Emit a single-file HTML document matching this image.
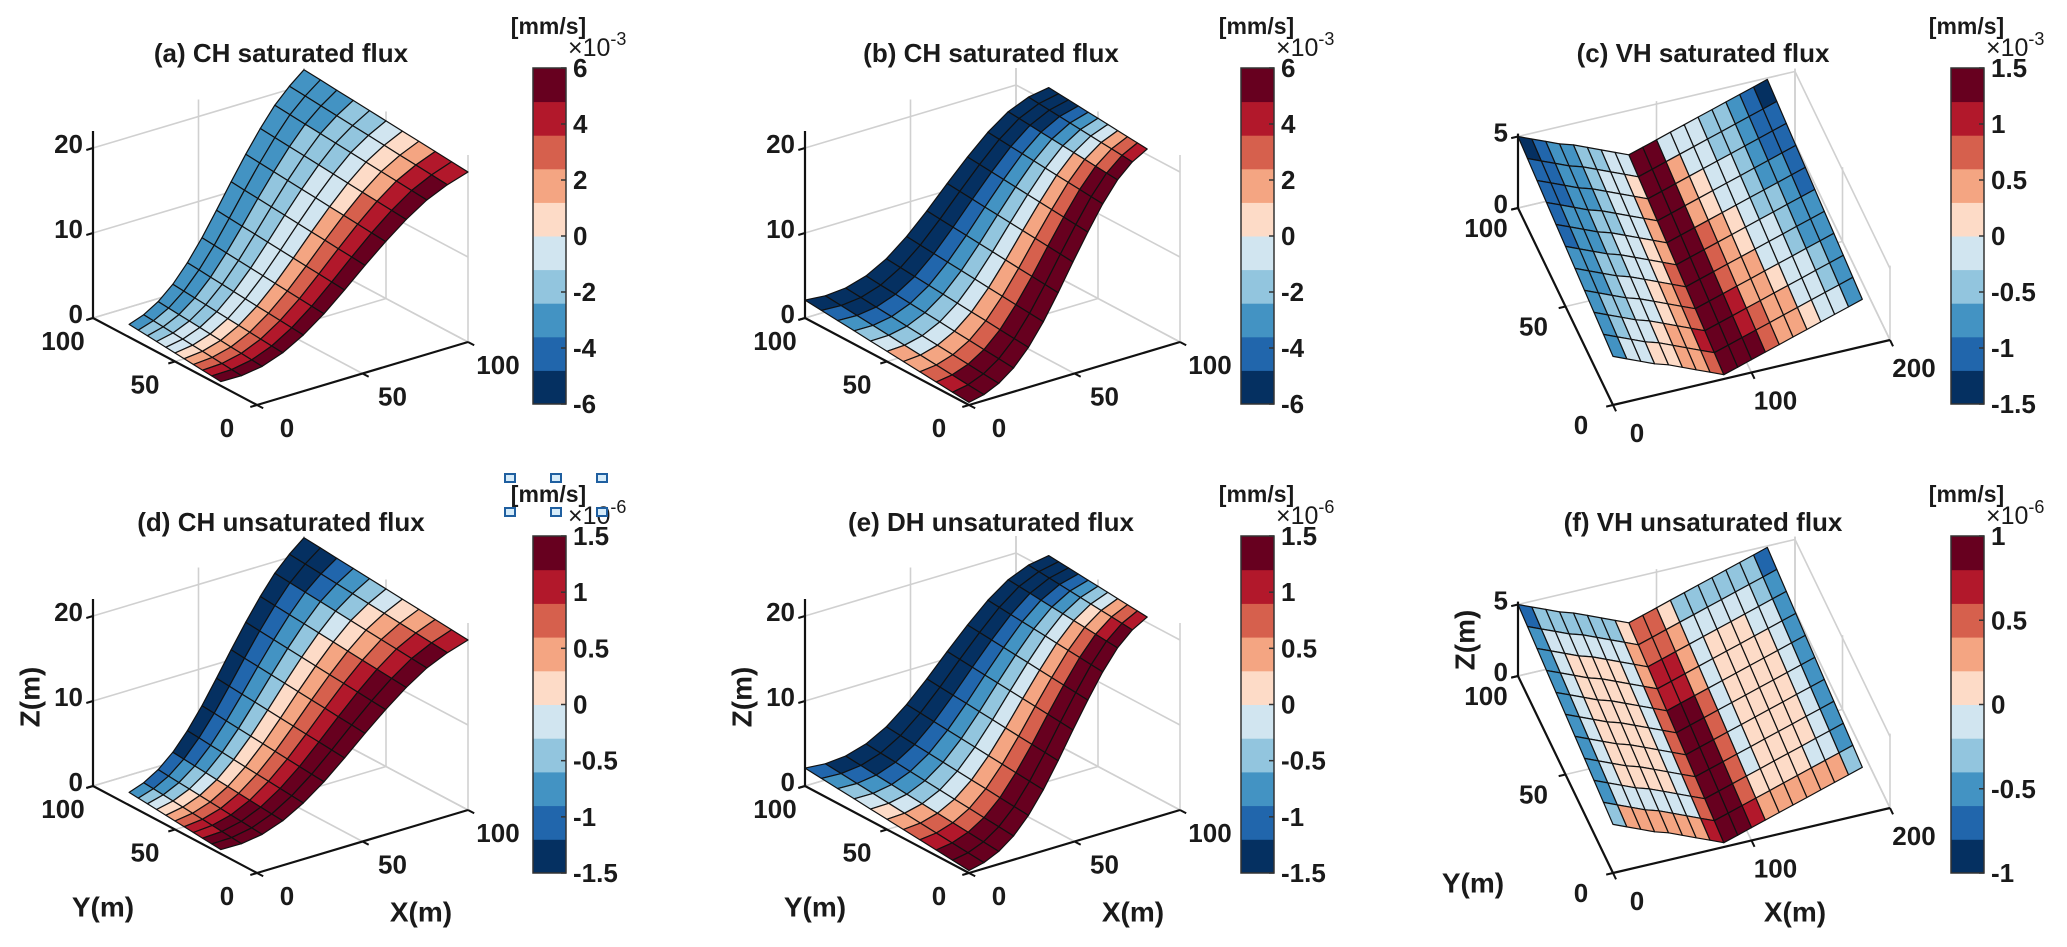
<!DOCTYPE html>
<html><head><meta charset="utf-8"><style>
html,body{margin:0;padding:0;background:#fff;}
svg{display:block;font-family:"Liberation Sans",Arial,sans-serif;font-weight:bold;}
</style></head><body>
<svg id="fig" width="2067" height="947" viewBox="0 0 2067 947" xmlns="http://www.w3.org/2000/svg"></svg>
<script>
// ---------- data ----------
const palette = ["#053061","#2166ac","#4393c3","#92c5de","#d1e5f0","#fddbc7","#f4a582","#d6604d","#b2182b","#67001f"];
// hillslope elevation profiles (13 points along X, 0..100 m)
const zProfileA = [1.0,1.3,2.0,3.2,4.9,7.0,9.4,11.9,14.3,16.5,18.4,19.8,20.9];
const zProfileB = [1.2,1.3,1.8,2.8,4.4,6.6,9.2,12.0,14.7,17.2,19.2,20.5,21.2];
// V-hillslope elevation at Y=100 (19 points along X, 0..180 m)
const zProfileV = [5.0,4.6,4.2,3.8,3.5,3.1,2.7,2.3,1.9,2.2,2.5,2.8,3.1,3.4,3.7,4.0,4.3,4.6,4.9];
// flux classes (0..9) per cell; hill rows run X=0 -> 100, columns Y high -> low
const fluxA = ["2334456789","2334456789","2233456789","2233446789","2233446789","2233446789","2233446789","2233446789","2233445789","2233345689","2223345689","2223345688"];
const fluxB = ["0123466789","0012346799","0012346799","0012346799","0012346799","0012346799","0012346799","0012346799","0012346799","0012346799","0001234679","0001234678"];
const fluxD = ["2345678899","1235678999","1234678999","0123567899","0123567899","0123567899","0123567899","0123567899","0123567899","0123456789","0012356789","0012345678"];
const fluxE = ["1234567899","0123467899","0012346799","0012346799","0012346799","0012346799","0012346799","0012346799","0012346799","0012346799","0001235689","0001234678"];
// V rows run Y=100 -> 0, columns X=0 -> 180
const fluxC = [
 [0,1,2,2,3,3,4,4,9,9,4,4,4,3,3,2,1,0],[1,1,2,2,3,4,4,5,9,9,6,4,4,3,3,2,1,1],
 [1,1,2,2,3,4,4,6,9,9,6,5,4,4,3,2,1,1],[1,2,2,3,3,4,4,6,9,9,6,5,4,4,3,2,2,1],
 [1,2,2,3,4,4,5,6,9,9,7,6,5,4,3,3,2,1],[2,2,3,3,4,4,5,7,9,9,7,6,5,4,4,3,2,2],
 [2,2,3,4,4,5,6,7,9,9,7,6,6,4,4,3,2,2],[2,3,3,4,4,5,6,7,9,9,8,6,6,5,4,4,3,2],
 [2,3,4,4,5,6,6,8,9,9,8,7,6,6,4,4,3,2],[2,4,4,5,5,6,6,7,9,9,9,7,6,6,5,4,4,2]];
const fluxF = [
 [1,3,3,3,3,3,3,5,7,7,5,3,3,3,3,3,3,1],[2,4,4,4,4,4,4,6,7,7,6,4,4,4,4,4,3,2],
 [2,4,5,5,5,5,4,6,8,8,6,4,5,5,5,4,4,2],[2,4,5,5,5,5,4,7,8,8,6,4,5,5,5,5,4,2],
 [2,4,5,5,5,5,4,7,9,9,7,4,5,5,5,5,4,2],[2,4,5,5,5,5,4,7,9,9,7,4,5,5,5,5,4,2],
 [2,4,5,5,5,5,4,7,9,9,7,4,5,5,5,5,4,2],[2,4,5,5,5,5,4,7,9,9,7,4,5,5,5,5,4,2],
 [2,4,4,4,4,4,4,7,9,9,7,5,5,5,5,4,4,2],[3,6,6,6,6,6,6,8,9,9,8,6,6,6,6,6,6,3]];
const cbTicks6 = [6,4,2,0,-2,-4,-6];
const cbTicks15 = [1.5,1,0.5,0,-0.5,-1,-1.5];
const cbTicks1 = [1,0.5,0,-0.5,-1];
const hillTicks = [0,50,100];
const hillZTicks = [0,10,20];
const vXTicks = [0,100,200];
const vZTicks = [0,5];

// ---------- drawing ----------
const NS="http://www.w3.org/2000/svg";
const svg=document.getElementById('fig');
function mk(tag,attrs,parent){const e=document.createElementNS(NS,tag);for(const k in attrs)e.setAttribute(k,attrs[k]);(parent||svg).appendChild(e);return e;}
function txt(s,x,y,size,anchor,parent){const t=mk('text',{x:x,y:y,'font-size':size,'text-anchor':anchor||'middle','dominant-baseline':'central',fill:'#1a1a1a'},parent);t.textContent=s;return t;}

function panel(P){
  const g=mk('g',{});
  
  
  const pr=(X,Y,Z)=>[P.O[0]+X*P.ex[0]+Y*P.ey[0], P.O[1]+X*P.ex[1]+Y*P.ey[1]+Z*P.ez];
  const line=(a,b,st,w,nm)=>{const l=mk('line',{x1:a[0],y1:a[1],x2:b[0],y2:b[1],stroke:st,'stroke-width':w},g);return l;};
  const grid='#d0d0d0';
  P.zt.forEach(z=>{line(pr(0,P.ym,z),pr(P.xm,P.ym,z),grid,1.6,'grid-line');line(pr(P.xm,P.ym,z),pr(P.xm,0,z),grid,1.6,'grid-line');});
  P.xt.forEach(x=>{line(pr(x,P.ym,0),pr(x,P.ym,P.zm),grid,1.6,'grid-line');line(pr(x,0,0),pr(x,P.ym,0),grid,1.6,'grid-line');});
  P.yt.forEach(y=>{line(pr(P.xm,y,0),pr(P.xm,y,P.zm),grid,1.6,'grid-line');line(pr(0,y,0),pr(P.xm,y,0),grid,1.6,'grid-line');});
  line(pr(0,P.ym,0),pr(0,P.ym,P.zm),'#111',2.2,'z-axis');
  line(pr(0,P.ym,0),pr(0,0,0),'#111',2.2,'y-axis');
  line(pr(0,0,0),pr(P.xm,0,0),'#111',2.2,'x-axis');
  const nx=Math.hypot(P.ex[0],P.ex[1]), ny=Math.hypot(P.ey[0],P.ey[1]);
  P.zt.forEach(z=>{const a=pr(0,P.ym,z);line(a,[a[0]-7*P.ex[0]/nx,a[1]-7*P.ex[1]/nx],'#111',2,'z-tick');
    const t=txt(String(z),a[0]-10,a[1]-4,P.fs,'end',g);});
  P.yt.forEach(y=>{const a=pr(0,y,0);line(a,[a[0]-7*P.ex[0]/nx,a[1]-7*P.ex[1]/nx],'#111',2,'y-tick');
    const t=txt(String(y),a[0]+P.yo[0],a[1]+P.yo[1],P.fs,'middle',g);});
  P.xt.forEach(x=>{const a=pr(x,0,0);line(a,[a[0]-7*P.ey[0]/ny,a[1]-7*P.ey[1]/ny],'#111',2,'x-tick');
    const t=txt(String(x),a[0]+P.xo[0],a[1]+P.xo[1],P.fs,'middle',g);});
  const cells=[];
  if(P.kind==='hill'){
    const nr=P.flux.length, nc=P.flux[0].length;
    const pt=(i,j)=>{const t=i/nr;const X=100*t;const lo=P.lo[0]+(P.lo[1]-P.lo[0])*t, hi=P.hi[0]+(P.hi[1]-P.hi[0])*t;
      const Y=hi-(hi-lo)*j/nc;return [X,Y,P.zp[i]+P.tilt*(Y-50)];};
    for(let i=0;i<nr;i++)for(let j=0;j<nc;j++){
      cells.push({q:[pt(i,j),pt(i,j+1),pt(i+1,j+1),pt(i+1,j)],c:+P.flux[i][j]});
    }
  } else {
    const nr=P.flux.length, nc=P.flux[0].length;
    const pt=(i,k)=>{const Y=100-100*i/nr;const X=10*k;return [X,Y,P.zp[k]-P.drop*(100-Y)/100];};
    for(let i=0;i<nr;i++)for(let k=0;k<nc;k++){
      cells.push({q:[pt(i,k),pt(i,k+1),pt(i+1,k+1),pt(i+1,k)],c:P.flux[i][k]});
    }
  }
  cells.forEach(c=>{let s=0;c.q.forEach(p=>{s+=P.O[1]+p[0]*P.ex[1]+p[1]*P.ey[1]-p[2]*0.15;});c.d=s;});
  cells.sort((a,b)=>a.d-b.d);
  cells.forEach(c=>{
    const pts=c.q.map(p=>pr(p[0],p[1],p[2]).map(v=>v.toFixed(1)).join(',')).join(' ');
    const e=mk('polygon',{points:pts,fill:palette[c.c],stroke:'#111','stroke-width':1.2,'stroke-linejoin':'round'},g);
    
    
  });
  const t=txt(P.title,P.tx,P.ty,26,'middle',g);
  
  
  const cb=mk('g',{},g);
  
  
  const cx=P.cb[0], cy=P.cb[1], cw=33, ch=P.cb[2];
  for(let k=0;k<10;k++){
    const r=mk('rect',{x:cx,y:cy+ch*(9-k)/10,width:cw,height:ch/10+0.5,fill:palette[k]},cb);
    
    
  }
  const fr=mk('rect',{x:cx,y:cy,width:cw,height:ch,fill:'none',stroke:'#333','stroke-width':1.5},cb);
  
  
  const rng=P.cbt[0]*2;
  P.cbt.forEach(v=>{const y=cy+(P.cbt[0]-v)/rng*ch;
    mk('line',{x1:cx+cw-5,y1:y,x2:cx+cw,y2:y,stroke:'#333','stroke-width':1.5},cb);
    const l=txt(String(v),cx+cw+7,y,26,'start',cb);
    
    });
  const u=txt('[mm/s]',cx+cw/2-1,cy-42,23,'middle',cb);
  
  
  const ex=mk('text',{x:cx+cw+2,y:cy-12,'font-size':25,'text-anchor':'start',fill:'#1a1a1a','font-weight':'normal'},cb);
  
  
  ex.innerHTML='×10<tspan font-size="18" dy="-11">'+P.exp+'</tspan>';
  if(P.labels){
    const z=txt('Z(m)',P.labels[0][0],P.labels[0][1],28,'middle',g);z.setAttribute('transform','rotate(-90 '+P.labels[0][0]+' '+P.labels[0][1]+')');
    
    const y=txt('Y(m)',P.labels[1][0],P.labels[1][1],28,'middle',g);
    const x=txt('X(m)',P.labels[2][0],P.labels[2][1],28,'middle',g);
  }
}
const dyB=468;
const hillBase={kind:'hill',ex:[2.11,-0.63],ey:[-1.64,-0.87],ez:-8.5,xm:100,ym:100,zm:22,xt:hillTicks,yt:hillTicks,zt:hillZTicks,fs:26,yo:[-30,23],xo:[30,23],tilt:0.018};
const vBase={kind:'v',ex:[1.385,-0.325],ey:[-0.95,-1.97],ez:-14.3,xm:200,ym:100,zm:5.2,xt:vXTicks,yt:hillTicks,zt:vZTicks,fs:26,yo:[-32,20],xo:[24,28],drop:1.6,zp:zProfileV};
panel(Object.assign({},hillBase,{name:'panel-a',O:[257,405],zp:zProfileA,flux:fluxA,lo:[22,0],hi:[78,100],title:'(a) CH saturated flux',tx:281,ty:53,cb:[533,68,336],cbt:cbTicks6,exp:'-3'}));
panel(Object.assign({},hillBase,{name:'panel-b',O:[969,405],zp:zProfileB,flux:fluxB,lo:[0,20],hi:[100,80],title:'(b) CH saturated flux',tx:991,ty:53,cb:[1241,68,336],cbt:cbTicks6,exp:'-3'}));
panel(Object.assign({},vBase,{name:'panel-c',O:[1613,405],flux:fluxC,title:'(c) VH saturated flux',tx:1703,ty:53,cb:[1951,68,336],cbt:cbTicks15,exp:'-3'}));
panel(Object.assign({},hillBase,{name:'panel-d',O:[257,405+dyB],zp:zProfileA,flux:fluxD,lo:[22,0],hi:[78,100],title:'(d) CH unsaturated flux',tx:281,ty:522,cb:[533,536,337],cbt:cbTicks15,exp:'-6',labels:[[30,697],[103,907],[421,912]]}));
panel(Object.assign({},hillBase,{name:'panel-e',O:[969,405+dyB],zp:zProfileB,flux:fluxE,lo:[0,20],hi:[100,80],title:'(e) DH unsaturated flux',tx:991,ty:522,cb:[1241,536,337],cbt:cbTicks15,exp:'-6',labels:[[742,697],[815,907],[1133,912]]}));
panel(Object.assign({},vBase,{name:'panel-f',O:[1613,405+dyB],flux:fluxF,title:'(f) VH unsaturated flux',tx:1703,ty:522,cb:[1951,536,337],cbt:cbTicks1,exp:'-6',labels:[[1465,640],[1473,883],[1795,912]]}));
[[510,478],[556,478],[602,478],[510,512],[556,512],[602,512]].forEach(p=>{
  const h=mk('rect',{x:p[0]-5,y:p[1]-4,width:10,height:8,fill:'#d6ecfa',stroke:'#1f5fa0','stroke-width':2});
  
  
});
</script>
</body></html>
